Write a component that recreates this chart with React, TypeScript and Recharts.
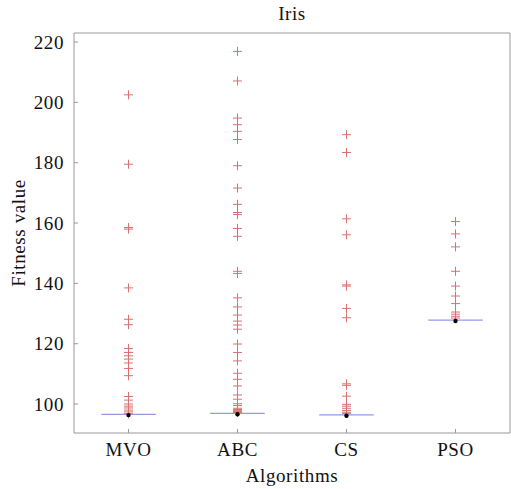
import { ScatterChart, Scatter, XAxis, YAxis, ReferenceLine, Label } from "recharts";

const CATEGORIES = ["MVO", "ABC", "CS", "PSO"];
const MEDIANS = [96.6, 96.9, 96.4, 127.8];
const MVO_OUTLIERS = [
  202.5, 179.5, 158.5, 158.0, 138.5, 128.1, 126.3, 118.4, 117.1, 116.0, 114.9,
  113.6, 111.8, 109.4, 102.5, 101.3, 100.0, 99.3, 98.7, 98.0, 97.4, 96.8,
];
const ABC_OUTLIERS = [
  216.9, 207.1, 194.8, 192.6, 190.4, 187.7, 179.0, 171.6, 166.2, 163.5, 162.8,
  158.2, 155.6, 144.0, 143.3, 135.2, 132.2, 129.5, 127.5, 126.2, 124.8, 119.9,
  117.1, 114.3, 110.2, 108.2, 106.0, 103.0, 101.6, 100.1, 99.5, 98.6, 98.2,
  97.9, 97.5, 97.2,
];
const CS_OUTLIERS = [
  189.3, 183.4, 161.4, 156.1, 139.5, 139.1, 131.7, 128.6, 106.7, 106.2, 102.6,
  99.9, 99.3, 98.6, 97.9, 97.3, 96.9,
];
const PSO_OUTLIERS = [
  160.5, 156.4, 152.1, 144.0, 139.1, 135.8, 133.3, 130.5, 129.8, 129.1, 128.5,
];
const Y_TICKS = [100, 120, 140, 160, 180, 200, 220];
const X_TICKS = [1, 2, 3, 4];

const FONT = "'Liberation Serif', 'Times New Roman', serif";
const AXIS_COLOR = "#9a9a9a";
const BOX_COLOR = "#9499e4";
const OUTLIER_COLOR = "#da7070";
const TEXT_STYLE = { fill: "#111", fontSize: 19, fontFamily: FONT, letterSpacing: 0.6 };

const outliers = [MVO_OUTLIERS, ABC_OUTLIERS, CS_OUTLIERS, PSO_OUTLIERS].flatMap(
  (vals, i) => vals.map((v) => ({ x: i + 1, y: v }))
);
const medians = MEDIANS.map((m, i) => ({ x: i + 1, y: m }));

const Cross = (props: any) => {
  const { cx, cy } = props;
  const s = 4.5;
  return (
    <g stroke={OUTLIER_COLOR} strokeWidth={1}>
      <line x1={cx - s} x2={cx + s} y1={cy} y2={cy} />
      <line x1={cx} x2={cx} y1={cy - s} y2={cy + s} />
    </g>
  );
};

const Dot = (props: any) => {
  const { cx, cy } = props;
  return <circle cx={cx} cy={cy + 0.8} r={2.2} fill="#000" />;
};

export default function App() {
  return (
    <div style={{ position: "absolute", left: 0, top: 0, fontFamily: FONT }}>
      <ScatterChart
        width={511}
        height={489}
        margin={{ top: 32, right: 0, bottom: 0, left: 0 }}
      >
        <XAxis
          dataKey="x"
          type="number"
          domain={[0.5, 4.5]}
          ticks={X_TICKS}
          tickFormatter={(v) => CATEGORIES[v - 1]}
          height={56}
          tickSize={-4}
          tickMargin={14}
          stroke={AXIS_COLOR}
          tick={TEXT_STYLE}
        >
          <Label value="Algorithms" position="insideBottom" offset={7} style={TEXT_STYLE} />
        </XAxis>
        <XAxis
          xAxisId="t"
          orientation="top"
          type="number"
          domain={[0.5, 4.5]}
          ticks={X_TICKS}
          height={1}
          tickSize={-4}
          stroke={AXIS_COLOR}
          tick={() => <g />}
        >
          <Label value="Iris" position="top" offset={12} style={TEXT_STYLE} />
        </XAxis>
        <YAxis
          dataKey="y"
          type="number"
          domain={[90.4, 223]}
          ticks={Y_TICKS}
          width={74}
          tickSize={-4}
          tickMargin={14}
          stroke={AXIS_COLOR}
          tick={TEXT_STYLE}
        >
          <Label
            value="Fitness value"
            angle={-90}
            position="insideLeft"
            offset={18}
            style={{ ...TEXT_STYLE, textAnchor: "middle" }}
          />
        </YAxis>
        <YAxis
          yAxisId="r"
          orientation="right"
          type="number"
          domain={[90.4, 223]}
          ticks={Y_TICKS}
          width={1}
          tickSize={-4}
          stroke={AXIS_COLOR}
          tick={() => <g />}
        />
        {MEDIANS.map((m, i) => (
          <ReferenceLine
            key={CATEGORIES[i]}
            segment={[
              { x: i + 1 - 0.25, y: m },
              { x: i + 1 + 0.25, y: m },
            ]}
            stroke={BOX_COLOR}
            strokeWidth={1.2}
          />
        ))}
        <Scatter data={outliers} shape={<Cross />} isAnimationActive={false} />
        <Scatter data={medians} shape={<Dot />} isAnimationActive={false} />
      </ScatterChart>
    </div>
  );
}
